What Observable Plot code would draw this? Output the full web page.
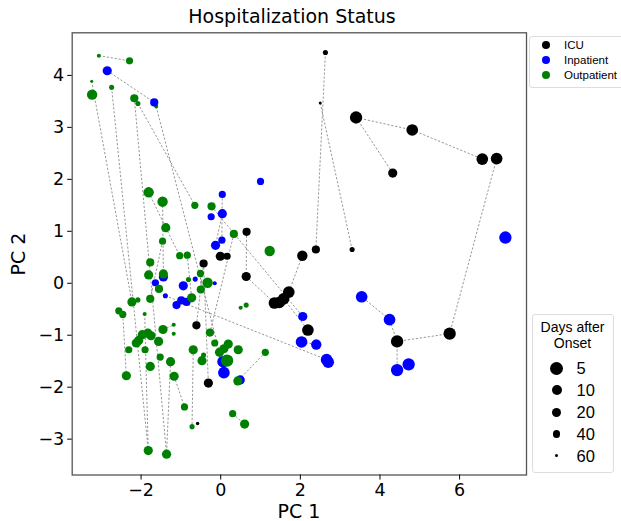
<!DOCTYPE html>
<html><head><meta charset="utf-8">
<script src="https://cdn.jsdelivr.net/npm/d3@7"></script>
<script src="https://cdn.jsdelivr.net/npm/@observablehq/plot@0.6"></script>
<style>
body{margin:0;background:#fff;}
#wrap{position:relative;width:621px;height:521px;overflow:hidden;background:#fff;font-family:"DejaVu Sans",sans-serif;color:#000;}
#title{position:absolute;left:0;top:3px;width:584px;text-align:center;font-size:19px;line-height:26px;}
#xlab{position:absolute;left:0;top:502px;width:598px;text-align:center;font-size:19px;line-height:19px;}
#ylab{position:absolute;left:18px;top:253.5px;font-size:19px;line-height:24px;transform:translate(-50%,-50%) rotate(-90deg);white-space:nowrap;}
#plot{position:absolute;left:0;top:30px;}
.box{position:absolute;border:1px solid #ddd;border-radius:3px;background:#fff;font-family:"Liberation Sans",Arial,sans-serif;}
.item{position:absolute;white-space:nowrap;}
.dot{position:absolute;border-radius:50%;}
</style></head><body><div id="wrap"><div id="title">Hospitalization Status</div><div id="plot"></div><div id="xlab">PC 1</div><div id="ylab">PC 2</div></div>
<script>
// ---- data ----
const statuses = ["ICU", "Inpatient", "Outpatient"];
const statusColors = ["#000000", "#0000ff", "#008000"];
const dayTicks = [5, 10, 20, 40, 60];
const dayRadii = [6.8, 5.2, 4.6, 3.6, 1.5];
const xTicks = [-2, 0, 2, 4, 6];
const yTicks = [-3, -2, -1, 0, 1, 2, 3, 4];

const icuX = [2.63, 2.50, 3.40, 4.81, 4.32, 6.57, 6.93, 2.39, 3.30, 2.05, 0.65, 0.64, 1.71, 1.58, 1.47, 1.35, 2.19, 4.43, 5.75, -0.01, 0.16, -0.43, -0.61, -0.31, -0.58];
const icuY = [4.44, 3.47, 3.19, 2.95, 2.12, 2.39, 2.40, 0.65, 0.65, 0.53, 0.99, 0.13, -0.17, -0.30, -0.37, -0.38, -0.90, -1.12, -0.97, 0.52, 0.52, 0.38, -0.81, -1.92, -2.70];
const icuDays = [50, 60, 7, 8, 20, 8, 8, 30, 50, 10, 30, 20, 8, 8, 8, 8, 8, 7, 7, 20, 40, 30, 30, 20, 58];

const inX = [-2.85, -1.67, 1.00, 0.04, 0.04, -0.24, 0.03, -0.13, -1.44, -1.64, -0.94, -0.64, -0.15, -1.39, -1.11, -0.99, -0.86, 0.06, 0.08, 0.49, 2.06, 2.03, 2.40, 2.66, 2.70, 3.54, 4.24, 4.43, 4.72, 7.15];
const inY = [4.09, 3.48, 1.96, 1.71, 1.34, 1.28, 0.83, 0.73, 0.12, 0.01, -0.05, 0.08, 0.00, -0.24, -0.42, -0.33, -0.36, -1.51, -1.72, -1.86, -0.64, -1.13, -1.18, -1.47, -1.52, -0.26, -0.70, -1.67, -1.56, 0.88];
const inDays = [20, 30, 40, 40, 20, 40, 40, 20, 20, 40, 20, 50, 55, 50, 30, 30, 30, 8, 8, 20, 20, 8, 10, 8, 8, 8, 8, 7, 7, 7];

const outX = [-3.06, -2.29, -1.62, -3.23, -3.24, -2.74, -2.17, -2.08, -1.81, -1.46, -0.65, -0.23, 0.33, -1.38, -1.46, -1.03, -0.84, -1.77, -1.81, -1.44, -1.55, -0.81, -0.51, -0.33, -0.50, -1.77, -0.73, -2.23, -2.08, -2.56, -2.46, -1.91, 0.50, 0.64, -1.18, -1.45, -1.18, -1.97, -1.83, -1.75, -2.06, -2.12, -1.56, -2.31, -1.90, -1.52, -1.26, -1.77, -2.37, -1.17, -0.27, -0.15, -0.69, -0.43, -0.47, 0.16, 0.19, 0.08, -0.03, 0.44, -0.91, -0.72, 0.30, 0.60, -1.82, -1.36, 1.12, 0.43, 1.23];
const outY = [4.38, 4.28, 3.40, 3.63, 3.89, 3.77, 3.56, 3.46, 1.75, 1.57, 1.50, 1.48, 0.95, 1.07, 0.81, 0.53, 0.54, 0.40, 0.16, 0.18, -0.11, 0.07, 0.19, 0.01, -0.12, -0.30, -0.28, -0.36, -0.32, -0.53, -0.60, -0.59, -0.47, -0.42, -0.80, -0.89, -0.97, -0.99, -0.96, -1.01, -1.10, -1.15, -1.12, -1.28, -1.28, -1.42, -1.51, -1.60, -1.78, -1.79, -0.95, -1.15, -1.28, -1.38, -1.49, -1.49, -1.17, -1.26, -1.33, -1.28, -2.38, -2.76, -2.51, -2.71, -3.22, -3.29, -1.33, -1.88, 0.62];
const outDays = [55, 40, 55, 10, 60, 50, 30, 50, 10, 10, 40, 30, 30, 20, 40, 40, 40, 30, 20, 20, 30, 50, 40, 10, 30, 30, 20, 20, 50, 40, 40, 55, 55, 50, 55, 20, 55, 20, 20, 20, 20, 20, 20, 40, 40, 40, 20, 20, 20, 20, 30, 40, 20, 50, 20, 7, 20, 20, 20, 20, 40, 50, 40, 20, 20, 20, 40, 20, 10];

// trajectories: pairs of point ids (C = ICU, I = Inpatient, O = Outpatient)
const links = [
  ["O0","O1"],["I0","I1"],["I1","O2"],["O4","O27"],["O5","O64"],["O6","O65"],["O7","O10"],["O2","O58"],
  ["O8","O13"],["O13","O15"],["O15","O16"],["O9","O19"],["O30","O48"],["O31","O64"],["O46","O65"],
  ["O49","O60"],["O52","O61"],["C22","C21"],["C21","C23"],["O12","O50"],["O11","I20"],["I13","I23"],
  ["O66","O67"],["O62","O63"],["O32","O33"],["C0","C7"],["C1","C8"],["C2","C4"],["C2","C3"],["C3","C5"],
  ["C6","C18"],["C18","C17"],["C17","I26"],["I26","I25"],["C17","I27"],["C9","C12"],["C12","C13"],
  ["C13","C14"],["C14","C15"],["C10","C11"],["C11","C15"],["C13","C16"],["I21","I22"],["I3","I6"],
  ["O14","O25"],["O16","O26"],["O22","O24"],["I4","I7"],["O35","O34"]
];

// ---- build table ----
const points = [];
const addGroup = (prefix, status, xs, ys, ds) => xs.forEach((x, i) =>
  points.push({id: prefix + i, status, x, y: ys[i], days: ds[i]}));
addGroup("C", "ICU", icuX, icuY, icuDays);
addGroup("I", "Inpatient", inX, inY, inDays);
addGroup("O", "Outpatient", outX, outY, outDays);
const byId = new Map(points.map(p => [p.id, p]));
const segs = links.map(([a, b]) => ({a: byId.get(a), b: byId.get(b)}));

const plot = Plot.plot({
  width: 621, height: 491,
  marginLeft: 71.7, marginRight: 95, marginTop: 2.3, marginBottom: 46.5,
  style: {fontFamily: "DejaVu Sans", color: "#000", background: "#fff"},
  x: {domain: [-3.73, 7.68]},
  y: {domain: [-3.69, 4.82]},
  r: {type: "linear", domain: dayTicks, range: dayRadii, clamp: true},
  color: {domain: statuses, range: statusColors},
  marks: [
    Plot.link(segs, {x1: d => d.a.x, y1: d => d.a.y, x2: d => d.b.x, y2: d => d.b.y,
      stroke: "#8a8a8a", strokeWidth: 0.9, strokeDasharray: "2.2,1.8"}),
    Plot.dot(points, {x: "x", y: "y", r: "days", fill: "status", stroke: "none"}),
    Plot.frame({stroke: "#555", strokeWidth: 1.3}),
    Plot.axisX({ticks: xTicks, tickSize: 5, tickPadding: 4, fontSize: 17.5, label: null}),
    Plot.axisY({ticks: yTicks, tickSize: 4.5, tickPadding: 3.5, fontSize: 17.5, label: null})
  ]
});
document.getElementById("plot").appendChild(plot);

// ---- legends (HTML) ----
const wrap = document.getElementById("wrap");
const rScale = plot.scale("r");
const colorBox = document.createElement("div");
colorBox.className = "box";
Object.assign(colorBox.style, {left: "529px", top: "36px", width: "100px", height: "50px"});
wrap.appendChild(colorBox);
statuses.forEach((s, i) => {
  const d = document.createElement("div");
  d.className = "dot";
  Object.assign(d.style, {left: (545.7 - 4) + "px", top: (45 + i * 15 - 4) + "px", width: "8px", height: "8px", background: statusColors[i]});
  wrap.appendChild(d);
  const t = document.createElement("div");
  t.className = "item";
  Object.assign(t.style, {left: "564px", top: (45 + i * 15 - 8) + "px", fontSize: "11.5px", lineHeight: "16px", fontFamily: "'Liberation Sans', Arial, sans-serif"});
  t.textContent = s;
  wrap.appendChild(t);
});

const sizeBox = document.createElement("div");
sizeBox.className = "box";
Object.assign(sizeBox.style, {left: "532px", top: "314px", width: "80px", height: "157px"});
wrap.appendChild(sizeBox);
["Days after", "Onset"].forEach((s, i) => {
  const t = document.createElement("div");
  t.className = "item";
  Object.assign(t.style, {left: "532px", width: "81px", textAlign: "center", top: (326.7 + i * 16.6 - 9) + "px", fontSize: "14px", lineHeight: "18px", fontFamily: "'Liberation Sans', Arial, sans-serif"});
  t.textContent = s;
  wrap.appendChild(t);
});
dayTicks.forEach((v, i) => {
  const cy = 368.3 + i * 21.9;
  const r = rScale.apply(v);
  const d = document.createElement("div");
  d.className = "dot";
  Object.assign(d.style, {left: (556.7 - r) + "px", top: (cy - r) + "px", width: 2 * r + "px", height: 2 * r + "px", background: "#000"});
  wrap.appendChild(d);
  const t = document.createElement("div");
  t.className = "item";
  Object.assign(t.style, {left: "576.5px", top: (cy - 10) + "px", fontSize: "16.5px", lineHeight: "20px", fontFamily: "'Liberation Sans', Arial, sans-serif"});
  t.textContent = String(v);
  wrap.appendChild(t);
});
</script></body></html>
